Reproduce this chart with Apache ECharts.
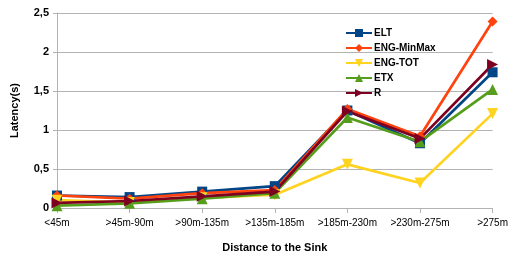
<!DOCTYPE html>
<html><head><meta charset="utf-8">
<script src="https://cdn.jsdelivr.net/npm/echarts@6/dist/echarts.min.js"></script>
<style>html,body{margin:0;padding:0;background:#fff}#c{width:511px;height:258px}</style>
</head><body><div id="c"></div>
<script>
const categories = ['<45m','>45m-90m','>90m-135m','>135m-185m','>185m-230m','>230m-275m','>275m'];
const ELT = [0.16, 0.14, 0.21, 0.28, 1.25, 0.83, 1.74];
const ENG_MinMax = [0.16, 0.12, 0.19, 0.23, 1.27, 0.92, 2.39];
const ENG_TOT = [0.10, 0.07, 0.13, 0.17, 0.56, 0.32, 1.21];
const ETX = [0.03, 0.06, 0.12, 0.19, 1.16, 0.85, 1.52];
const R = [0.065, 0.09, 0.15, 0.21, 1.24, 0.89, 1.84];
const yTicks = [0, 0.5, 1, 1.5, 2, 2.5];

const font = 'Liberation Sans, Arial, sans-serif';
function s(name, data, color, symbol, size, rot) {
  return {name, type:'line', data, symbol, symbolSize:size, symbolRotate:rot||0,
    lineStyle:{color, width:2.7}, itemStyle:{color}, showAllSymbol:true};
}
const chart = echarts.init(document.getElementById('c'));
chart.setOption({
  animation:false,
  grid:{left:57, right:16, top:13, bottom:47},
  legend:{orient:'vertical', left:340, top:23, itemGap:5, itemWidth:26, itemHeight:10,
    textStyle:{fontFamily:font, fontWeight:'bold', fontSize:10, color:'#000', padding:[0,0,0,-3]},
    data:['ELT','ENG-MinMax','ENG-TOT','ETX','R']},
  xAxis:{type:'category', data:categories, boundaryGap:false,
    name:'Distance to the Sink', nameLocation:'middle', nameGap:34,
    nameTextStyle:{fontFamily:font, fontWeight:'bold', fontSize:11, color:'#000'},
    axisLine:{lineStyle:{color:'#b3b3b3'}}, axisTick:{length:5, lineStyle:{color:'#b3b3b3'}},
    axisLabel:{fontFamily:font, fontSize:10, color:'#000', margin:10, interval:0}},
  yAxis:{type:'value', min:0, max:2.5, interval:0.5,
    name:'Latency(s)', nameLocation:'middle', nameGap:37,
    nameTextStyle:{fontFamily:font, fontWeight:'bold', fontSize:11, color:'#000'},
    axisLine:{show:true, lineStyle:{color:'#b3b3b3'}}, axisTick:{show:true, length:4, lineStyle:{color:'#b3b3b3'}},
    splitLine:{lineStyle:{color:'#b3b3b3'}},
    axisLabel:{fontFamily:font, fontWeight:'bold', fontSize:11, color:'#000', margin:8,
      formatter:v=>String(v).replace('.',',')}},
  series:[
    s('ELT', ELT, '#004586', 'rect', 10),
    s('ENG-MinMax', ENG_MinMax, '#ff420e', 'diamond', 10),
    s('ENG-TOT', ENG_TOT, '#ffd320', 'triangle', 11, 180),
    s('ETX', ETX, '#579d1c', 'triangle', 11),
    s('R', R, '#7e0021', 'triangle', 11, -90)
  ]
});
</script></body></html>
